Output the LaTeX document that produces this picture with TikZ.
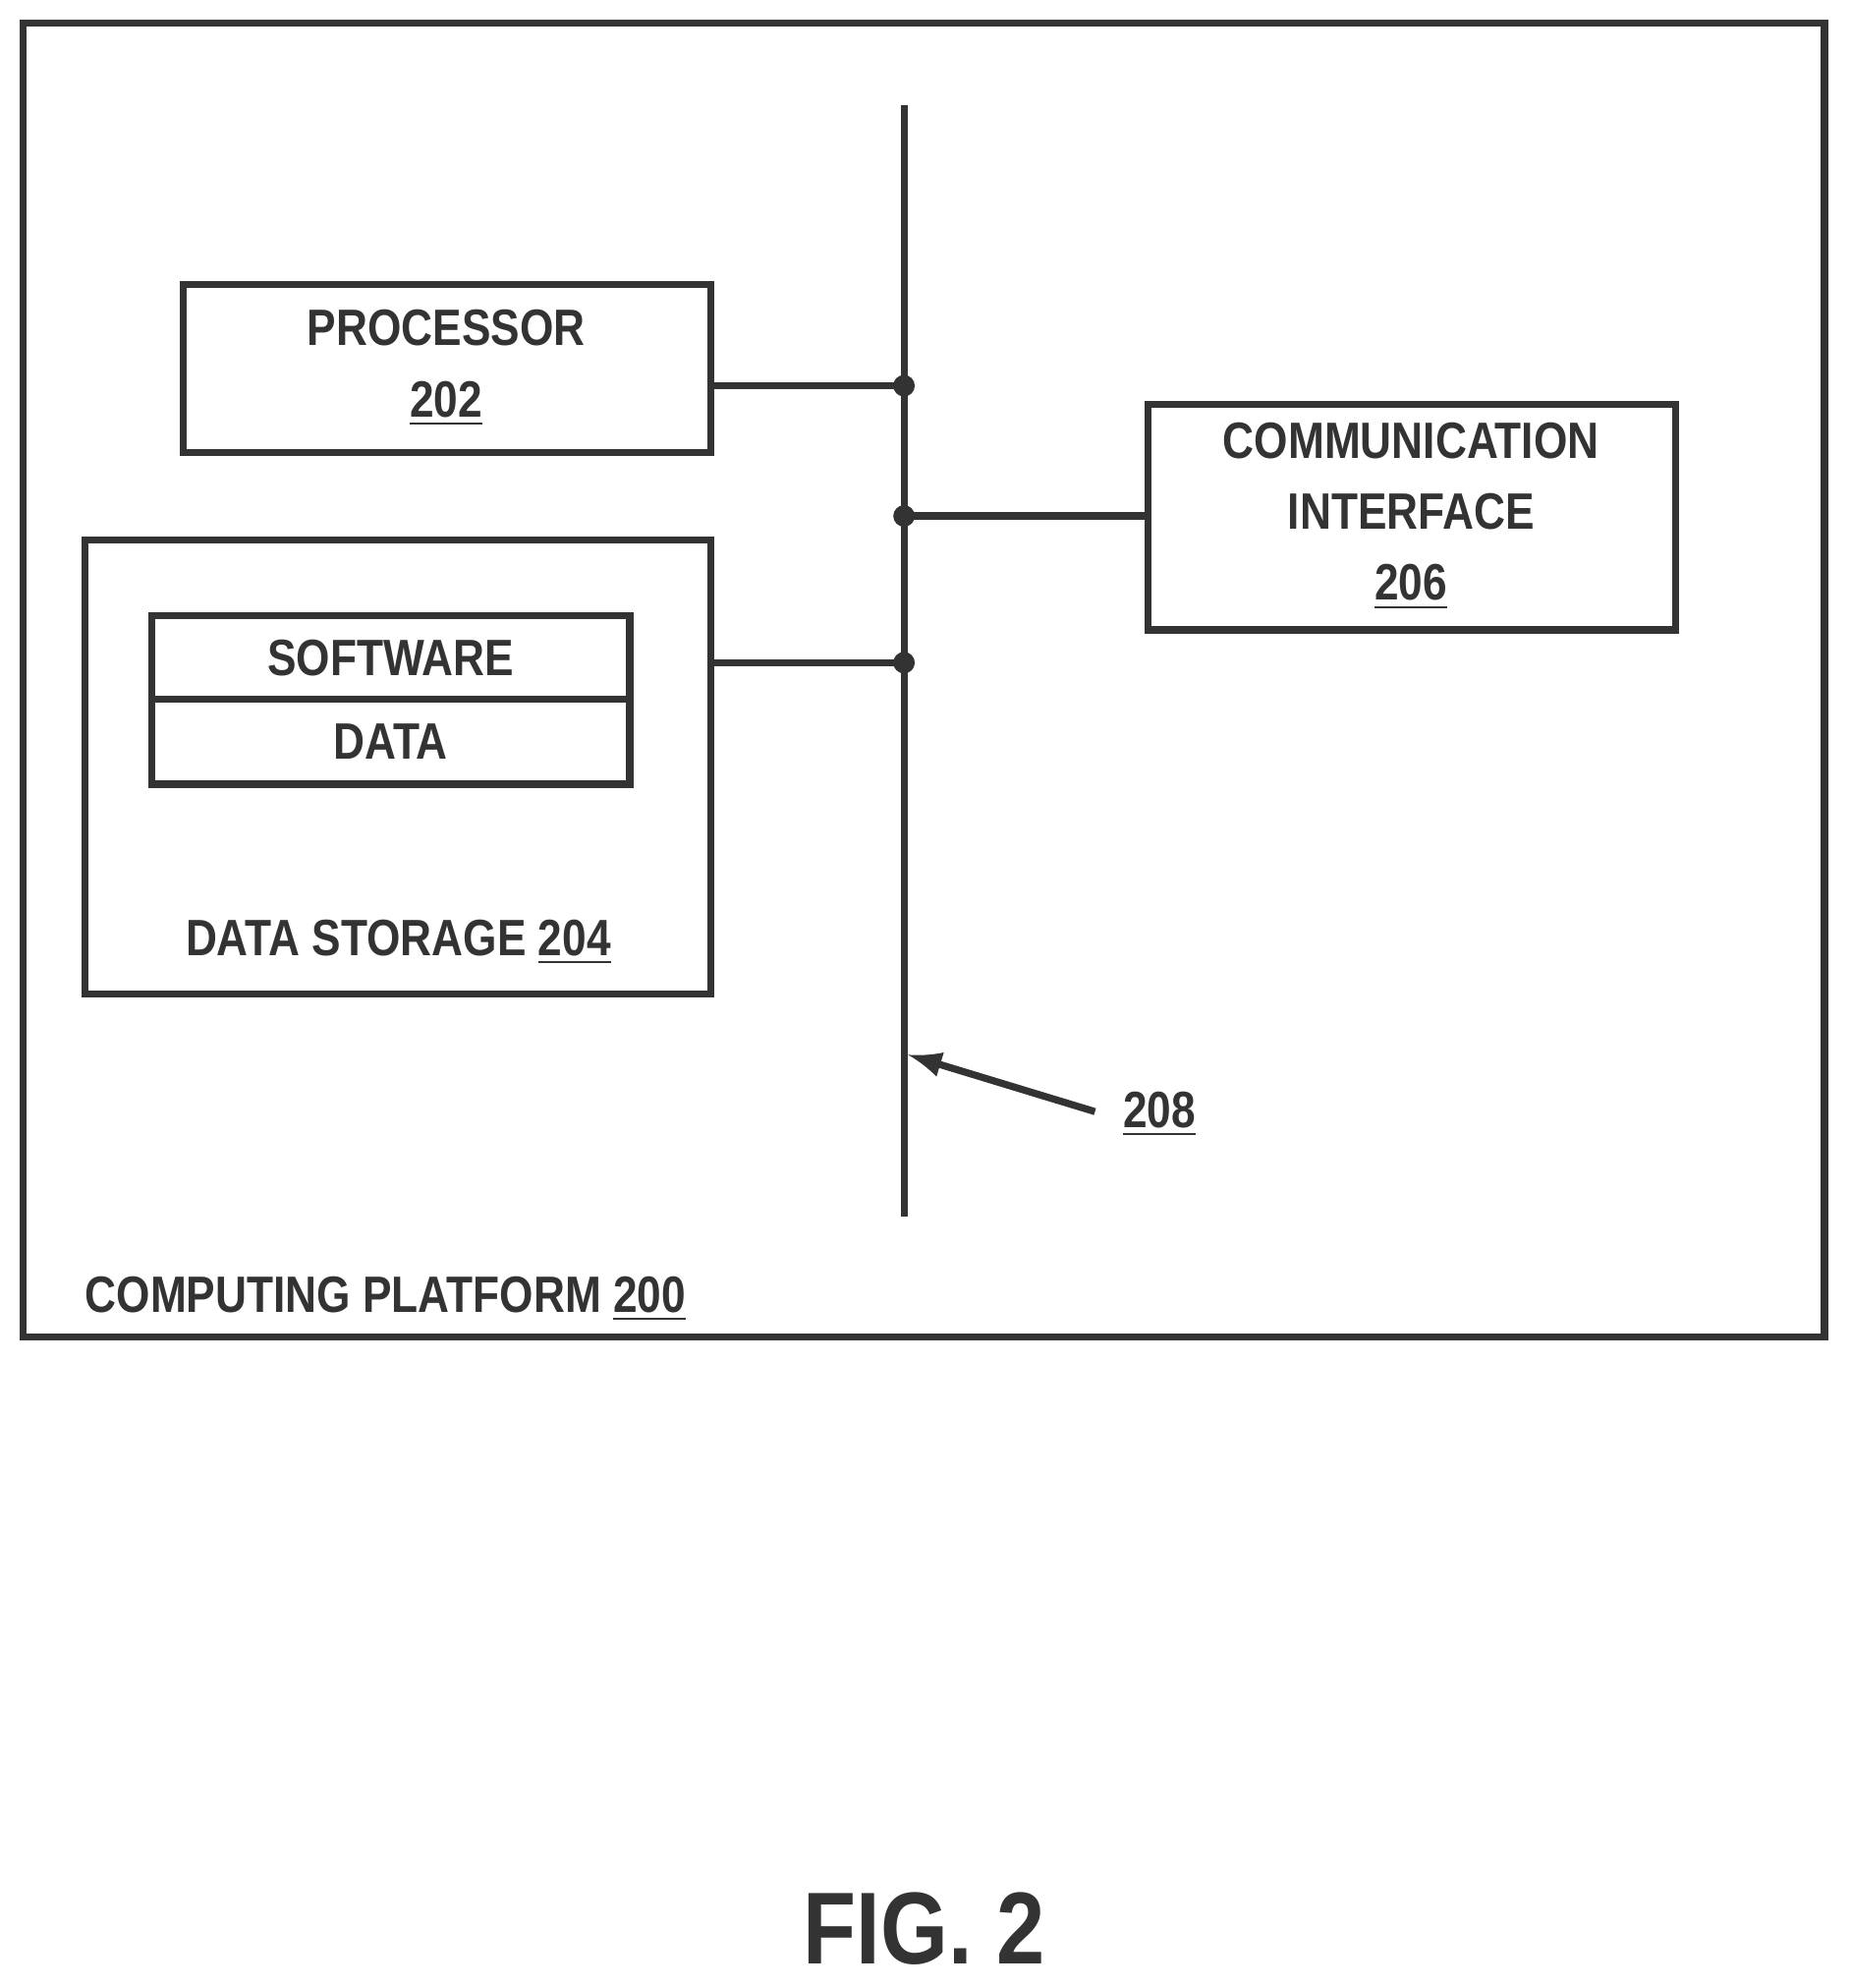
\documentclass[tikz,border=0pt]{standalone}
\usepackage{fontspec}
\setmainfont{Liberation Sans}[FakeStretch=0.85]
\begin{document}
\begin{tikzpicture}[x=0.01cm,y=-0.01cm,
  box/.style={draw=black!80,line width=1.6pt},
  lbl/.style={font=\bfseries\fontsize{11.5}{14}\selectfont,text=black!80,align=center},
  wire/.style={draw=black!80,line width=1.6pt},
  dot/.style={circle,fill=black!80,inner sep=0pt,minimum size=0.17cm}]
\useasboundingbox (0,0) rectangle (1464,1572);
\draw[box] (18,18) rectangle (1443,1057);
\draw[box] (145,225) rectangle (562,358);
\node[lbl] (proc) at (353,291) {PROCESSOR\\[2pt]\underline{202}};
\draw[box] (908,320) rectangle (1325,498);
\node[lbl] (comm) at (1116,408) {COMMUNICATION\\[2pt]INTERFACE\\[2pt]\underline{206}};
\draw[box] (67,427) rectangle (562,786);
\draw[box] (120,487) rectangle (498,553);
\draw[box] (120,553) rectangle (498,620);
\node[lbl] (sw) at (309,520) {SOFTWARE};
\node[lbl] (data) at (309,586) {DATA};
\node[lbl] (ds) at (315,745) {DATA STORAGE \underline{204}};
\coordinate (bt) at (715,83);
\coordinate (bb) at (715,962);
\draw[wire] (bt) -- (bb);
\node[dot] (d1) at (715,305) {};
\node[dot] (d2) at (715,408) {};
\node[dot] (d3) at (715,524) {};
\coordinate (p) at (562,305);
\coordinate (c) at (908,408);
\coordinate (s) at (562,524);
\draw[wire] (p) -- (d1.center);
\draw[wire] (d2.center) -- (c);
\draw[wire] (s) -- (d3.center);
\coordinate (as) at (866,879);
\coordinate (ae) at (718,834);
\draw[wire,->,>={latex}] (as) -- (ae);
\node[lbl] (n208) at (917,881) {\underline{208}};
\node[lbl,anchor=west] (cp) at (55,1027) {COMPUTING PLATFORM \underline{200}};
\node[lbl,font=\bfseries\fontsize{23}{26}\selectfont] (fig) at (731,1525) {FIG. 2};
\end{tikzpicture}
\end{document}
